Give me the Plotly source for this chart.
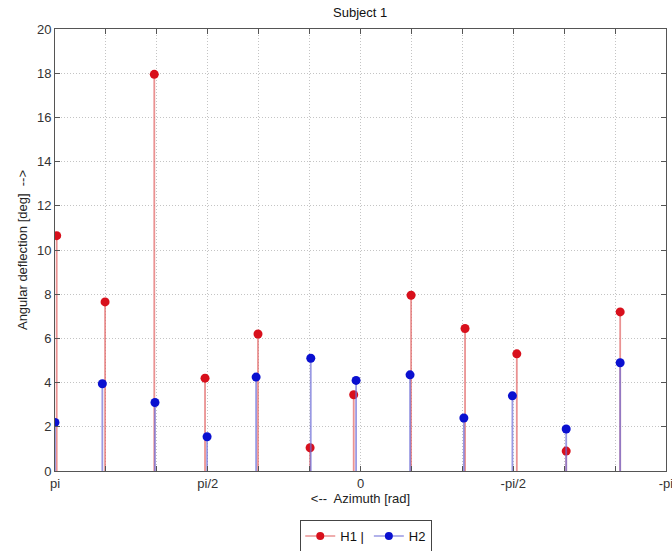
import numpy as np
import plotly.graph_objects as go

# Azimuth of each measurement (degrees) and angular deflection (degrees)
h1_az_deg = [179.0, 150.5, 121.5, 91.6, 60.4, 29.7, 4.0, -29.8, -61.6, -92.1, -121.2, -153.0]
h1_defl = [10.65, 7.65, 17.95, 4.2, 6.2, 1.05, 3.45, 7.95, 6.45, 5.3, 0.9, 7.2]

h2_az_deg = [180.0, 152.1, 121.1, 90.4, 61.5, 29.3, 2.6, -29.2, -60.9, -89.5, -121.2, -153.0]
h2_defl = [2.2, 3.95, 3.1, 1.55, 4.25, 5.1, 4.1, 4.35, 2.4, 3.4, 1.9, 4.9]

x_tick_vals = [np.pi - k * np.pi / 6 for k in range(13)]
x_tick_text = ["pi", "", "", "pi/2", "", "", "0", "", "", "-pi/2", "", "", "-pi"]
y_tick_vals = list(range(0, 21, 2))

series = [
    ("H1 |", h1_az_deg, h1_defl, "#d8101c", "rgba(225,100,100,0.7)"),
    ("H2", h2_az_deg, h2_defl, "#0a10d0", "rgba(110,110,215,0.7)"),
]

fig = go.Figure()

for name, az_deg, defl, mcol, scol in series:
    az = np.deg2rad(az_deg)
    xs, ys = [], []
    for a, v in zip(az, defl):
        xs += [a, a, None]
        ys += [0, v, None]
    # stems
    fig.add_trace(go.Scatter(x=xs, y=ys, mode="lines",
                             line=dict(color=scol, width=1.8),
                             hoverinfo="skip", showlegend=False, legendgroup=name))
    # stem heads
    fig.add_trace(go.Scatter(x=az, y=defl, mode="markers",
                             marker=dict(color=mcol, size=9, line=dict(width=0)),
                             showlegend=False, legendgroup=name, name=name))
    # legend entry
    fig.add_trace(go.Scatter(x=[None], y=[None], mode="lines+markers", name=name,
                             line=dict(color=scol, width=1.6),
                             marker=dict(color=mcol, size=8),
                             legendgroup=name))

axis_common = dict(
    showline=True, linecolor="#555555", linewidth=1, mirror="ticks",
    ticks="inside", ticklen=5, tickcolor="#555555",
    showgrid=True, gridcolor="#c4c4c4", griddash="1px,2px", gridwidth=1,
    zeroline=False,
    tickfont=dict(family="Liberation Sans, Arial", size=13, color="#333333"),
)

eps = 1e-6
fig.update_xaxes(
    range=[np.pi + eps, -np.pi - eps], tickmode="array", tickvals=x_tick_vals, ticktext=x_tick_text,
    ticklabeloverflow="allow",
    title=dict(text="<--  Azimuth [rad]", standoff=4,
               font=dict(family="Liberation Sans, Arial", size=13, color="#222222")),
    **axis_common,
)
fig.update_yaxes(
    range=[0, 20], tickmode="array", tickvals=y_tick_vals,
    title=dict(text="Angular deflection [deg]  -->", standoff=6,
               font=dict(family="Liberation Sans, Arial", size=13, color="#222222")),
    **axis_common,
)

fig.update_layout(
    width=672, height=551,
    margin=dict(l=55, r=6, t=29, b=80, autoexpand=False),
    paper_bgcolor="white", plot_bgcolor="white",
    title=dict(text="Subject 1", x=0.536, xanchor="center", y=0.977, yanchor="middle",
               font=dict(family="Liberation Sans, Arial", size=13, color="#111111")),
    legend=dict(orientation="h", xref="container", yref="container",
                x=0.545, xanchor="center", y=1 - 520 / 551, yanchor="top",
                bordercolor="#444444", borderwidth=1, bgcolor="white",
                font=dict(family="Liberation Sans, Arial", size=13, color="#111111"),
                itemwidth=30, tracegroupgap=0),
    showlegend=True,
)

fig.write_html("out.html")
